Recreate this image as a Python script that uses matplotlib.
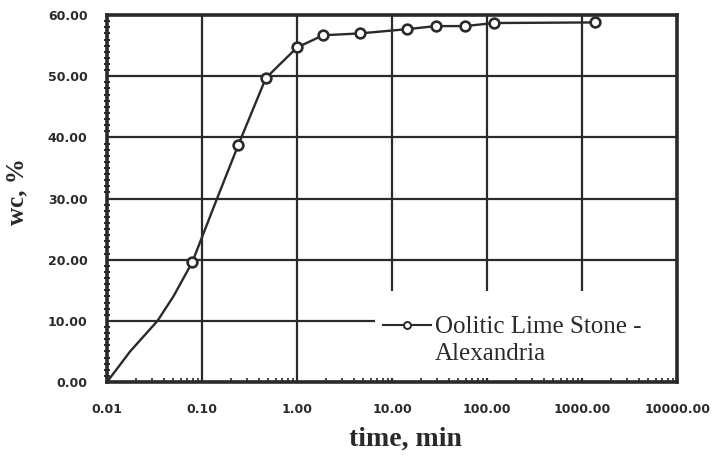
import numpy as np
import matplotlib
matplotlib.use('Agg')
from matplotlib import pyplot as plt
from matplotlib.patches import Rectangle
from matplotlib.ticker import FixedLocator, MultipleLocator, LogLocator, NullFormatter

# measured points (markers)
time_min = [0.079, 0.24, 0.47, 1.0, 1.88, 4.6, 14.4, 29, 59, 117, 1380]
wc = [19.6, 38.7, 49.7, 54.7, 56.7, 57.0, 57.7, 58.2, 58.2, 58.7, 58.8]

# drawn curve (includes unmarked start)
curve_t = [0.01, 0.0175, 0.034, 0.05, 0.079, 0.144, 0.24, 0.47, 1.0, 1.88, 4.6, 14.4, 29, 59, 117, 1380]
curve_wc = [0.0, 5.0, 10.0, 14.0, 19.6, 30.0, 38.7, 49.7, 54.7, 56.7, 57.0, 57.7, 58.2, 58.2, 58.7, 58.8]

x_ticks = [0.01, 0.1, 1, 10, 100, 1000, 10000]
x_labels = ['0.01', '0.10', '1.00', '10.00', '100.00', '1000.00', '10000.00']
y_ticks = [0, 10, 20, 30, 40, 50, 60]
y_labels = ['0.00', '10.00', '20.00', '30.00', '40.00', '50.00', '60.00']

ink = '#2a2a2a'

fig = plt.figure(figsize=(7.18, 4.57), dpi=100)
ax = fig.add_axes([0.149, 0.164, 0.794, 0.803])

ax.plot(curve_t, curve_wc, color=ink, lw=1.7, zorder=3)
ax.plot(time_min, wc, ls='none', marker='o', ms=7, mfc='white', mec=ink, mew=1.9, zorder=4)
# legend proxy
ax.plot([], [], color=ink, lw=1.5, marker='o', ms=5, mfc='white', mec=ink, mew=1.4,
        label='Oolitic Lime Stone -')

ax.set_xscale('log')
ax.set_xlim(0.01, 10000)
ax.set_ylim(0, 60)

ax.xaxis.set_major_locator(FixedLocator(x_ticks))
ax.set_xticklabels(x_labels)
ax.xaxis.set_minor_locator(LogLocator(base=10, subs=np.arange(2, 10)))
ax.xaxis.set_minor_formatter(NullFormatter())
ax.yaxis.set_major_locator(FixedLocator(y_ticks))
ax.set_yticklabels(y_labels)
ax.yaxis.set_minor_locator(MultipleLocator(1))

ax.grid(True, which='major', color=ink, lw=1.6)
for s in ax.spines.values():
    s.set_linewidth(2.6)
    s.set_color(ink)
    s.set_zorder(5)

ax.tick_params(which='major', length=0, labelsize=9, colors=ink)
ax.tick_params(axis='x', which='major', pad=15)
ax.tick_params(axis='y', which='major', pad=14)
ax.tick_params(axis='y', which='minor', direction='inout', length=5, width=1.5, color=ink)
ax.tick_params(axis='x', which='minor', direction='in', length=3, width=1.2, color=ink)
for lab in ax.get_xticklabels() + ax.get_yticklabels():
    lab.set_fontweight('bold')
    lab.set_family('DejaVu Sans')

ax.set_xlabel('time, min', fontsize=20, fontweight='bold', family='Liberation Serif', color=ink)
ax.set_ylabel('wc, %', fontsize=18, fontweight='bold', family='Liberation Serif', color=ink)
ax.xaxis.set_label_coords(0.523, -0.122)
ax.yaxis.set_label_coords(-0.138, 0.52)

# white area behind the legend hides the grid there
ax.add_patch(Rectangle((0.47, 0.012), 0.53, 0.235, transform=ax.transAxes,
                       facecolor='white', edgecolor='none', zorder=2.7))

leg = ax.legend(loc='upper left', bbox_to_anchor=(0.485, 0.18), frameon=False,
                prop={'family': 'Liberation Serif', 'size': 18}, handlelength=1.9,
                handletextpad=0.15, borderpad=0, borderaxespad=0)
leg.set_zorder(6)
for t in leg.get_texts():
    t.set_color(ink)

fig.canvas.draw()
tb = leg.get_texts()[0].get_window_extent()
x0, y0 = ax.transAxes.inverted().transform((tb.x0, tb.y0))
ax.text(x0, y0 - 0.012, 'Alexandria', transform=ax.transAxes, ha='left', va='top',
        family='Liberation Serif', fontsize=18, color=ink, zorder=6)

fig.savefig('out.png', dpi=100, facecolor='white')
